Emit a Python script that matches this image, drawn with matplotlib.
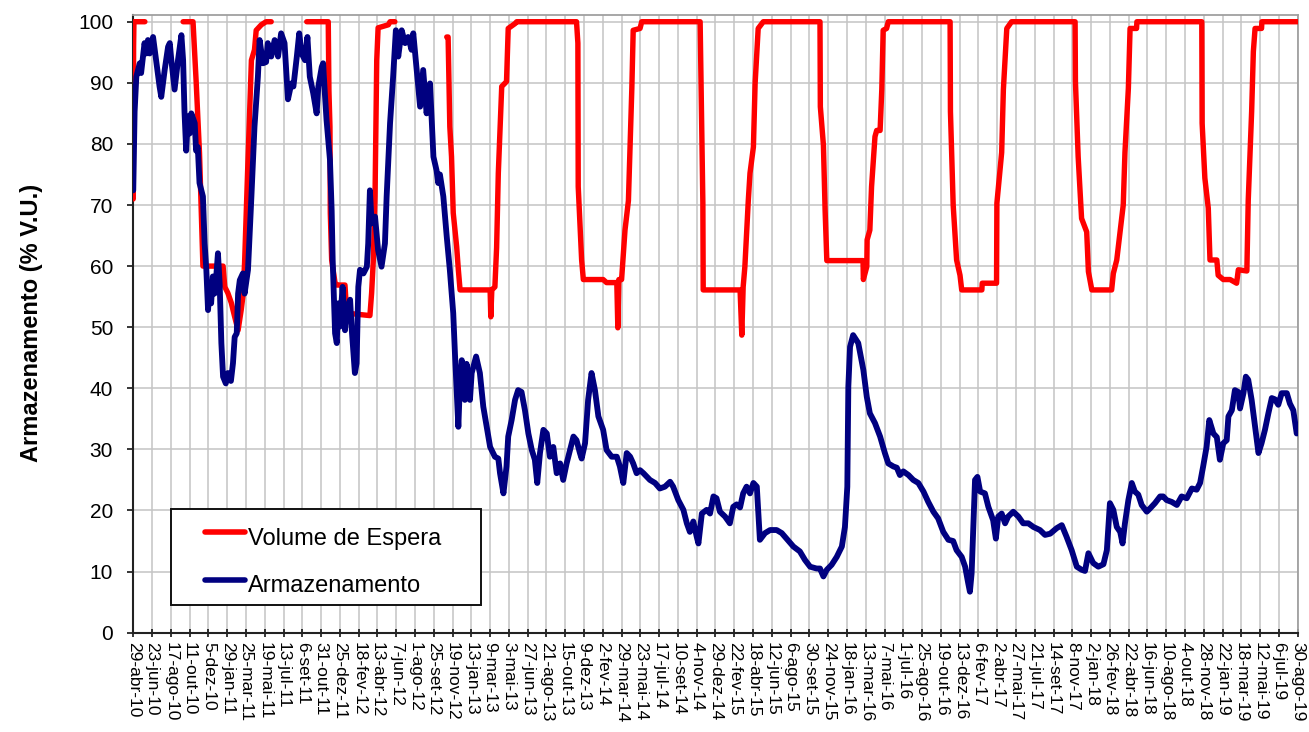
import numpy as np
import matplotlib
matplotlib.use("Agg")
import matplotlib.pyplot as plt
from matplotlib.patches import Rectangle

plt.rcParams['font.family'] = ['Liberation Sans', 'DejaVu Sans']

START = np.datetime64('2010-04-29')
PT_MONTHS = ['jan', 'fev', 'mar', 'abr', 'mai', 'jun', 'jul', 'ago', 'set', 'out', 'nov', 'dez']
TICK_STEP_DAYS = 55
N_TICKS = 63

# Volume de Espera (% V.U.) -- day offset from 29-abr-10, value (NaN = no data)
espera_days = [0, 1, 2, 34, 35,
               146, 175, 184, 189, 194, 199, 204, 263, 268, 277, 287, 297, 307, 316, 321,
               326, 331, 336, 346, 355, 360, 375, 389, 404, 405,
               508, 571, 573, 576, 577, 581, 591, 596, 620, 625, 693, 698, 703, 708, 713,
               717, 747, 752, 766, 767,
               918, 922, 927, 932, 937, 947, 952, 957, 1045, 1047, 1050, 1059, 1064, 1069,
               1079, 1093, 1098, 1118, 1123, 1298, 1302, 1303, 1313, 1318, 1376, 1386,
               1416, 1419, 1422, 1430, 1440, 1450, 1455, 1460, 1464, 1484, 1489, 1660,
               1668, 1669, 1777, 1782, 1786, 1791, 1801, 1806, 1816, 1821, 1830, 1845,
               2011, 2012, 2021, 2026, 2031, 2137, 2138, 2148, 2149, 2157, 2162, 2172,
               2177, 2187, 2192, 2196, 2206, 2211, 2392, 2393, 2401, 2411, 2421, 2426,
               2485, 2486, 2528, 2529, 2543, 2548, 2558, 2572, 2758, 2759, 2767, 2777,
               2792, 2797, 2807, 2865, 2870, 2880, 2899, 2904, 2914, 2919, 2938, 2939,
               3129, 3130, 3138, 3148, 3153, 3173, 3177, 3192, 3212, 3231, 3236, 3261,
               3265, 3275, 3280, 3285, 3304, 3305, 3410]
espera_vals = [71, 96, 100, 100, np.nan,
               100, 100, 90.4, 84.4, 78.5, 69, 60, 60, 56.6, 55.6, 54, 51.7, 49.5, 52.8, 55,
               60.5, 69.1, 77.4, 93.7, 95.4, 98.6, 99.5, 100, 100, np.nan,
               100, 100, 88.7, 82.8, 68.7, 61, 57.2, 56.9, 56.9, 52.3, 51.9, 55.6, 61, 71.4, 93.7,
               99, 99.5, 100, 100, np.nan,
               97.5, 97.5, 82.8, 77.9, 68.7, 63.2, 59.4, 56.1, 56.1, 51.7, 56.1, 56.6, 63, 75.2,
               89.4, 90.2, 98.9, 99.7, 100, 100, 96.5, 73, 61, 57.8, 57.8, 57.3,
               57.3, 49.9, 57.8, 57.8, 65.9, 70.7, 80.1, 89.1, 98.6, 98.9, 100, 100,
               70.3, 56.1, 56.1, 48.7, 56.6, 59.9, 70.7, 75.2, 79.5, 89.9, 98.9, 100,
               100, 86.1, 79.8, 69.1, 60.9, 60.9, 57.8, 59.9, 64.3, 65.9, 73, 81.2,
               82.2, 82.2, 88.9, 98.6, 98.9, 100, 100, 85.3, 70, 61, 58.5, 56.1,
               56.1, 57.2, 57.2, 70.3, 78.6, 88.9, 98.9, 100, 100, 90.2, 77.9, 67.8,
               65.6, 59.1, 56.1, 56.1, 58.8, 61, 70, 78.6, 89.1, 98.9, 98.9, 100,
               100, 83.4, 74.4, 69.5, 61, 61, 58.5, 57.8, 57.8, 57.2, 59.4, 59.2,
               70.7, 85.3, 95.1, 98.9, 98.9, 100, 100]

# Armazenamento (% V.U.) -- day offset from 29-abr-10, value
armaz_days = [0, 4, 9, 19, 23, 33, 38, 43, 48, 58, 67, 77, 82, 92, 102, 107, 111, 121, 131, 141,
              146, 150, 155, 160, 165, 170, 180, 184, 189, 194, 204, 209, 214, 219, 224, 228,
              233, 238, 243, 248, 253, 258, 263, 271, 277, 286, 292, 297, 303, 307, 312, 321,
              326, 336, 346, 355, 365, 370, 380, 389, 394, 404, 414, 424, 433, 443, 453, 463,
              469, 479, 486, 493, 503, 510, 517, 527, 537, 542, 552, 556, 561, 566, 576, 581,
              584, 591, 596, 600, 605, 613, 620, 625, 635, 640, 649, 654, 659, 664, 674, 684,
              688, 693, 698, 708, 717, 727, 737, 742, 752, 761, 769, 776, 786, 796, 805, 815,
              820, 830, 840, 849, 859, 869, 879, 888, 893, 898, 908, 918, 927, 937, 942, 952,
              957, 962, 971, 976, 986, 991, 1004, 1015, 1025, 1035, 1045, 1059, 1069, 1074,
              1084, 1093, 1098, 1108, 1118, 1127, 1137, 1147, 1157, 1167, 1176, 1183, 1191,
              1201, 1211, 1220, 1230, 1240, 1250, 1259, 1269, 1279, 1289, 1298, 1308, 1313,
              1323, 1332, 1342, 1352, 1362, 1376, 1386, 1401, 1416, 1425, 1435, 1445, 1455,
              1464, 1474, 1484, 1494, 1513, 1528, 1542, 1557, 1572, 1581, 1596, 1611, 1621,
              1630, 1640, 1650, 1655, 1665, 1679, 1689, 1699, 1708, 1718, 1733, 1747, 1757,
              1767, 1777, 1786, 1796, 1806, 1816, 1826, 1835, 1850, 1865, 1884, 1899, 1913,
              1933, 1952, 1967, 1982, 2001, 2011, 2021, 2031, 2045, 2060, 2075, 2084, 2091,
              2094, 2099, 2108, 2123, 2138, 2148, 2157, 2172, 2187, 2201, 2211, 2226, 2236,
              2245, 2255, 2270, 2284, 2299, 2314, 2328, 2343, 2357, 2372, 2387, 2401, 2411,
              2426, 2436, 2445, 2450, 2455, 2460, 2465, 2472, 2480, 2494, 2504, 2518, 2526,
              2533, 2543, 2553, 2562, 2577, 2592, 2606, 2621, 2636, 2655, 2670, 2685, 2704,
              2719, 2733, 2748, 2763, 2777, 2787, 2797, 2811, 2826, 2841, 2851, 2860, 2870,
              2880, 2890, 2897, 2904, 2914, 2924, 2933, 2943, 2953, 2968, 2977, 2992, 3007,
              3016, 3026, 3041, 3056, 3070, 3085, 3100, 3114, 3124, 3133, 3143, 3151, 3163,
              3173, 3182, 3192, 3202, 3207, 3217, 3226, 3236, 3241, 3251, 3258, 3265, 3275,
              3285, 3295, 3304, 3314, 3324, 3334, 3343, 3353, 3363, 3378, 3387, 3397, 3407]
armaz_vals = [72.4, 85.3, 91, 93.2, 91.6, 96.5, 94.8, 97, 94.8, 97.5, 93.7, 89.4, 87.7, 92.1, 95.9,
              96.5, 94, 88.9, 93.7, 97.8, 93.7, 85.3, 78.9, 84.5, 81.7, 85, 83.4, 78.9, 79.5,
              73.6, 71.4, 63.7, 59.4, 52.8, 57.2, 53.9, 58.3, 55.5, 58.3, 62.1, 57.2, 47.4,
              41.9, 40.8, 42.5, 41.2, 44.1, 48.4, 49, 55.5, 57.7, 58.8, 55.5, 59.4, 71.4, 82.8,
              91, 97, 93.2, 93.4, 96.5, 94.3, 97, 94.3, 98.1, 96.5, 87.3, 89.9, 89.4, 94.3, 98.1,
              94.8, 93.7, 97.5, 91, 88.3, 85, 89.4, 92.6, 93.2, 88.3, 83.9, 77.4, 69.1, 61, 49,
              47.4, 53.9, 50.1, 56.6, 49.5, 52.8, 54.5, 49.5, 42.5, 44.1, 56.6, 59.4, 58.8,
              59.9, 63.7, 72.4, 67, 68.1, 62.6, 59.9, 63.7, 71.4, 83.4, 91, 98.6, 94.3, 98.6,
              96.5, 97.5, 95.4, 98.1, 92.1, 86.1, 92.1, 85, 89.9, 77.9, 75.7, 73.6, 75, 71.4,
              64.8, 59.4, 52.3, 45.7, 33.7, 41.4, 44.6, 38.1, 44, 38.1, 42.5, 45.2, 42.5, 37,
              33.7, 30.4, 28.8, 28.5, 26.1, 22.8, 27.2, 32.1, 34.8, 38.1, 39.7, 39.4, 36.4,
              32.6, 29.9, 28.3, 24.5, 29.4, 33.2, 32.6, 28.8, 30.4, 26.1, 27.7, 25, 27.7, 29.9,
              32.1, 31.5, 29.4, 28.5, 31, 38.1, 42.5, 39.7, 35.4, 33.2, 29.9, 28.8, 28.8, 27.2,
              24.5, 29.4, 28.8, 27.7, 26.1, 26.6, 26.1, 25, 24.5, 23.6, 23.9, 24.7, 23.9, 21.7,
              20.1, 17.9, 16.5, 18.2, 15.7, 14.6, 19.5, 20.1, 19.5, 22.3, 22, 19.8, 19, 17.9,
              20.6, 21, 20.5, 22.8, 23.9, 22.8, 24.5, 23.9, 15.2, 16.3, 16.8, 16.8, 16.3, 15.4,
              14.1, 13.3, 11.9, 10.8, 10.5, 10.5, 9.2, 10.3, 11.1, 12.4, 14.1, 17.3, 23.9,
              40.3, 46.8, 48.7, 47.4, 43, 38.6, 35.9, 34.3, 32.1, 29.4, 27.7, 27.2, 27,
              25.8, 26.4, 25.8, 25, 24.5, 23.1, 21.4, 19.8, 18.7, 16.5, 15.2, 15, 13.5,
              12.4, 10.8, 8.1, 6.7, 9.7, 17.3, 25, 25.5, 23.1, 22.8, 20.6, 18.4, 15.4,
              19, 19.5, 17.9, 19, 19.8, 19, 17.9, 17.9, 17.3, 16.8, 16, 16.2, 17.1,
              17.6, 15.7, 13.5, 10.8, 10.3, 10.1, 13, 11.4, 10.8, 11.2, 13.5, 21.2, 20.1,
              17.3, 16.5, 14.6, 17.9, 21.7, 24.5, 23.1, 22.6, 20.9, 19.8, 20.3, 21.2, 22.3,
              22.3, 21.7, 21.4, 20.9, 22.3, 22, 23.6, 23.4, 24.5, 27.2, 30.4, 34.8, 32.6,
              32, 28.3, 31, 31.5, 35.4, 36.4, 39.7, 39.4, 36.7, 39.2, 41.9, 41.4, 38.1,
              33.7, 29.4, 31, 33.2, 35.9, 38.4, 38.2, 37.3, 39.2, 39.2, 37.5, 36.4, 32.6]

Y_TICKS = [0, 10, 20, 30, 40, 50, 60, 70, 80, 90, 100]
SERIES_NAMES = ['Volume de Espera', 'Armazenamento']
Y_LABEL = 'Armazenamento (% V.U.)'

tick_dates = START + np.arange(N_TICKS) * TICK_STEP_DAYS
tick_labels = []
for d in tick_dates.astype('datetime64[D]').tolist():
    tick_labels.append(f"{d.day}-{PT_MONTHS[d.month - 1]}-{d.year % 100:02d}")

esp_x = START + np.array(espera_days)
arm_x = START + np.array(armaz_days)

fig = plt.figure(figsize=(13.09, 7.32), dpi=100)
ax = fig.add_axes([0.1018, 0.1357, 0.8896, 0.8438])

RED = '#FF0000'
NAVY = '#000080'
ax.plot(esp_x, np.array(espera_vals, dtype=float), color=RED, lw=3.9,
        solid_capstyle='round', solid_joinstyle='round', zorder=3)
ax.plot(arm_x, np.array(armaz_vals, dtype=float), color=NAVY, lw=4.2,
        solid_capstyle='round', solid_joinstyle='round', zorder=4)

ax.set_xlim(tick_dates[0], tick_dates[-1])
ax.set_ylim(0, 101.1)
ax.set_yticks(Y_TICKS)
ax.set_yticklabels([str(v) for v in Y_TICKS], fontsize=15)
ax.set_xticks(tick_dates)
ax.set_xticklabels(tick_labels, rotation=-90, fontsize=12.5, va='top', ha='center')

ax.grid(True, color='#c4c4c4', lw=1.1)
ax.set_axisbelow(True)
ax.tick_params(axis='y', direction='out', length=4.5, width=1.1, pad=10)
ax.tick_params(axis='x', direction='inout', length=6, width=1.1, pad=4)
for s in ['left', 'bottom']:
    ax.spines[s].set_color('#222222')
    ax.spines[s].set_linewidth(1.5)
for s in ['top', 'right']:
    ax.spines[s].set_color('#a0a0a0')
    ax.spines[s].set_linewidth(1.3)

fig.text(0.0244, 0.559, Y_LABEL, rotation=90, fontsize=17, fontweight='bold',
         ha='center', va='center')

# legend box
ax.add_patch(Rectangle((0.0324, 0.0448), 0.266, 0.155, transform=ax.transAxes,
                       facecolor='white', edgecolor='#111111', lw=1.4, zorder=10))
for yl, yt, col, name in [(0.163, 0.142, RED, SERIES_NAMES[0]),
                          (0.0853, 0.0664, NAVY, SERIES_NAMES[1])]:
    ax.plot([0.0616, 0.0959], [yl, yl], transform=ax.transAxes, color=col, lw=4.0,
            solid_capstyle='round', zorder=11)
    ax.text(0.0985, yt, name, transform=ax.transAxes, fontsize=17, va='baseline',
            ha='left', zorder=11)

fig.savefig('out.png', dpi=100)
